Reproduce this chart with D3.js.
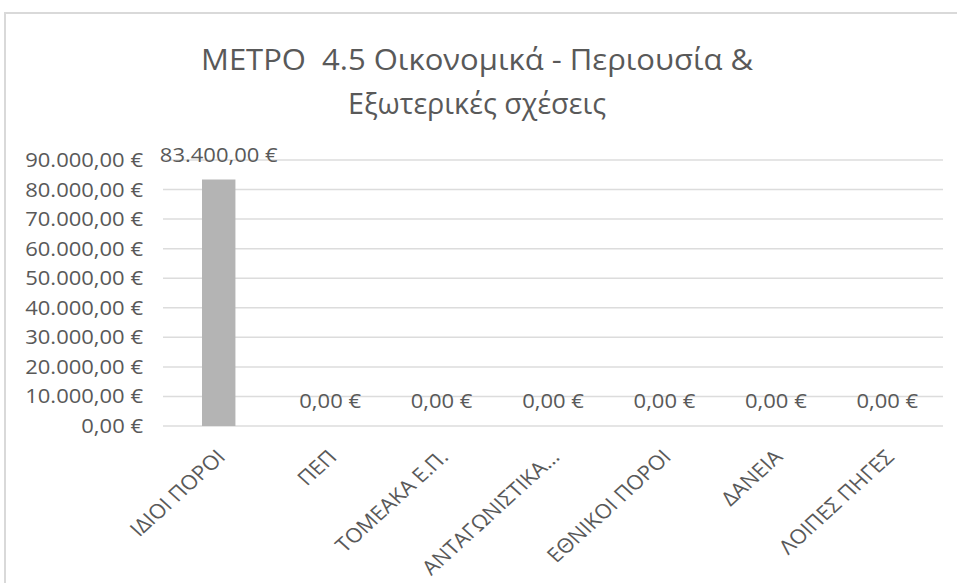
<!DOCTYPE html>
<html>
<head>
<meta charset="utf-8">
<script src="https://cdn.jsdelivr.net/npm/d3@7"></script>
<style>
  html, body { margin: 0; padding: 0; background: #ffffff; }
  svg { display: block; }
  text { font-family: "Open Sans", "DejaVu Sans", sans-serif; fill: #595959; white-space: pre; }
</style>
</head>
<body>
<svg id="chart" width="957" height="583"></svg>
<script>
// Funding sources for measure 4.5
const categories = ["ΙΔΙΟΙ ΠΟΡΟΙ", "ΠΕΠ", "ΤΟΜΕΑΚΑ Ε.Π.", "ΑΝΤΑΓΩΝΙΣΤΙΚΑ...", "ΕΘΝΙΚΟΙ ΠΟΡΟΙ", "ΔΑΝΕΙΑ", "ΛΟΙΠΕΣ ΠΗΓΕΣ"];
const values = [83400, 0, 0, 0, 0, 0, 0];
const yTicks = [0, 10000, 20000, 30000, 40000, 50000, 60000, 70000, 80000, 90000];
const titleLines = ["ΜΕΤΡΟ  4.5 Οικονομικά - Περιουσία &", "Εξωτερικές σχέσεις"];
const titleWidths = [552, 258];

const W = 957, H = 583;
const SX = 1.1; // horizontal stretch for axis and value text
const plot = { left: 163, right: 943, top: 160, bottom: 426 };

const euro = d3.formatLocale({
  decimal: ",", thousands: ".", grouping: [3], currency: ["", "\u00a0€"]
}).format("$,.2f");

const svg = d3.select("#chart");

// chart frame
svg.append("rect")
  .attr("x", 5).attr("y", 13)
  .attr("width", 1000).attr("height", 1000)
  .attr("fill", "#ffffff")
  .attr("stroke", "#d9d9d9").attr("stroke-width", 2);

const x = d3.scaleBand()
  .domain(categories)
  .range([plot.left, plot.right])
  .paddingInner(0.7)
  .paddingOuter(0.35);

const y = d3.scaleLinear()
  .domain([0, 90000])
  .range([plot.bottom, plot.top]);

// title
svg.append("g").selectAll("text")
  .data(titleLines)
  .join("text")
  .attr("xml:space", "preserve")
  .attr("x", 477)
  .attr("y", (d, i) => 70 + i * 44)
  .attr("text-anchor", "middle")
  .attr("font-size", 28.5)
  .attr("textLength", (d, i) => titleWidths[i])
  .attr("lengthAdjust", "spacingAndGlyphs")
  .text(d => d);

// gridlines
svg.append("g").selectAll("line")
  .data(yTicks)
  .join("line")
  .attr("x1", plot.left).attr("x2", plot.right)
  .attr("y1", d => y(d)).attr("y2", d => y(d))
  .attr("stroke", "#dcdcdc").attr("stroke-width", 1.5);

// y axis labels
const yAxis = svg.append("g")
  .attr("transform", `translate(${plot.left},0)`)
  .call(d3.axisLeft(y).tickValues(yTicks).tickFormat(euro).tickSize(0).tickPadding(0));
yAxis.select(".domain").remove();
yAxis.selectAll(".tick text")
  .attr("x", null).attr("dy", null)
  .attr("transform", `translate(-20,0) scale(${SX},1)`)
  .attr("y", 6.5)
  .attr("font-size", 20)
  .attr("font-family", null)
  .attr("fill", "#595959")
  .attr("text-anchor", "end");

// bars
svg.append("g").selectAll("rect")
  .data(values)
  .join("rect")
  .attr("x", (d, i) => x(categories[i]))
  .attr("width", x.bandwidth())
  .attr("y", d => y(d))
  .attr("height", d => y(0) - y(d))
  .attr("fill", "#b4b4b4");

// value labels
svg.append("g").selectAll("text")
  .data(values)
  .join("text")
  .attr("transform", (d, i) => `translate(${x(categories[i]) + x.bandwidth() / 2},${y(d) - 18}) scale(${SX},1)`)
  .attr("text-anchor", "middle")
  .attr("font-size", 20)
  .text(d => euro(d));

// category labels
const xAxis = svg.append("g")
  .attr("transform", `translate(0,${plot.bottom})`)
  .call(d3.axisBottom(x).tickSize(0).tickPadding(0));
xAxis.select(".domain").remove();
xAxis.selectAll(".tick text")
  .attr("y", null).attr("dy", null)
  .attr("transform", `translate(2,27) scale(${SX},1) rotate(-45)`)
  .attr("font-size", 20)
  .attr("font-family", null)
  .attr("fill", "#595959")
  .attr("text-anchor", "end")
  .attr("dominant-baseline", "central");
</script>
</body>
</html>
